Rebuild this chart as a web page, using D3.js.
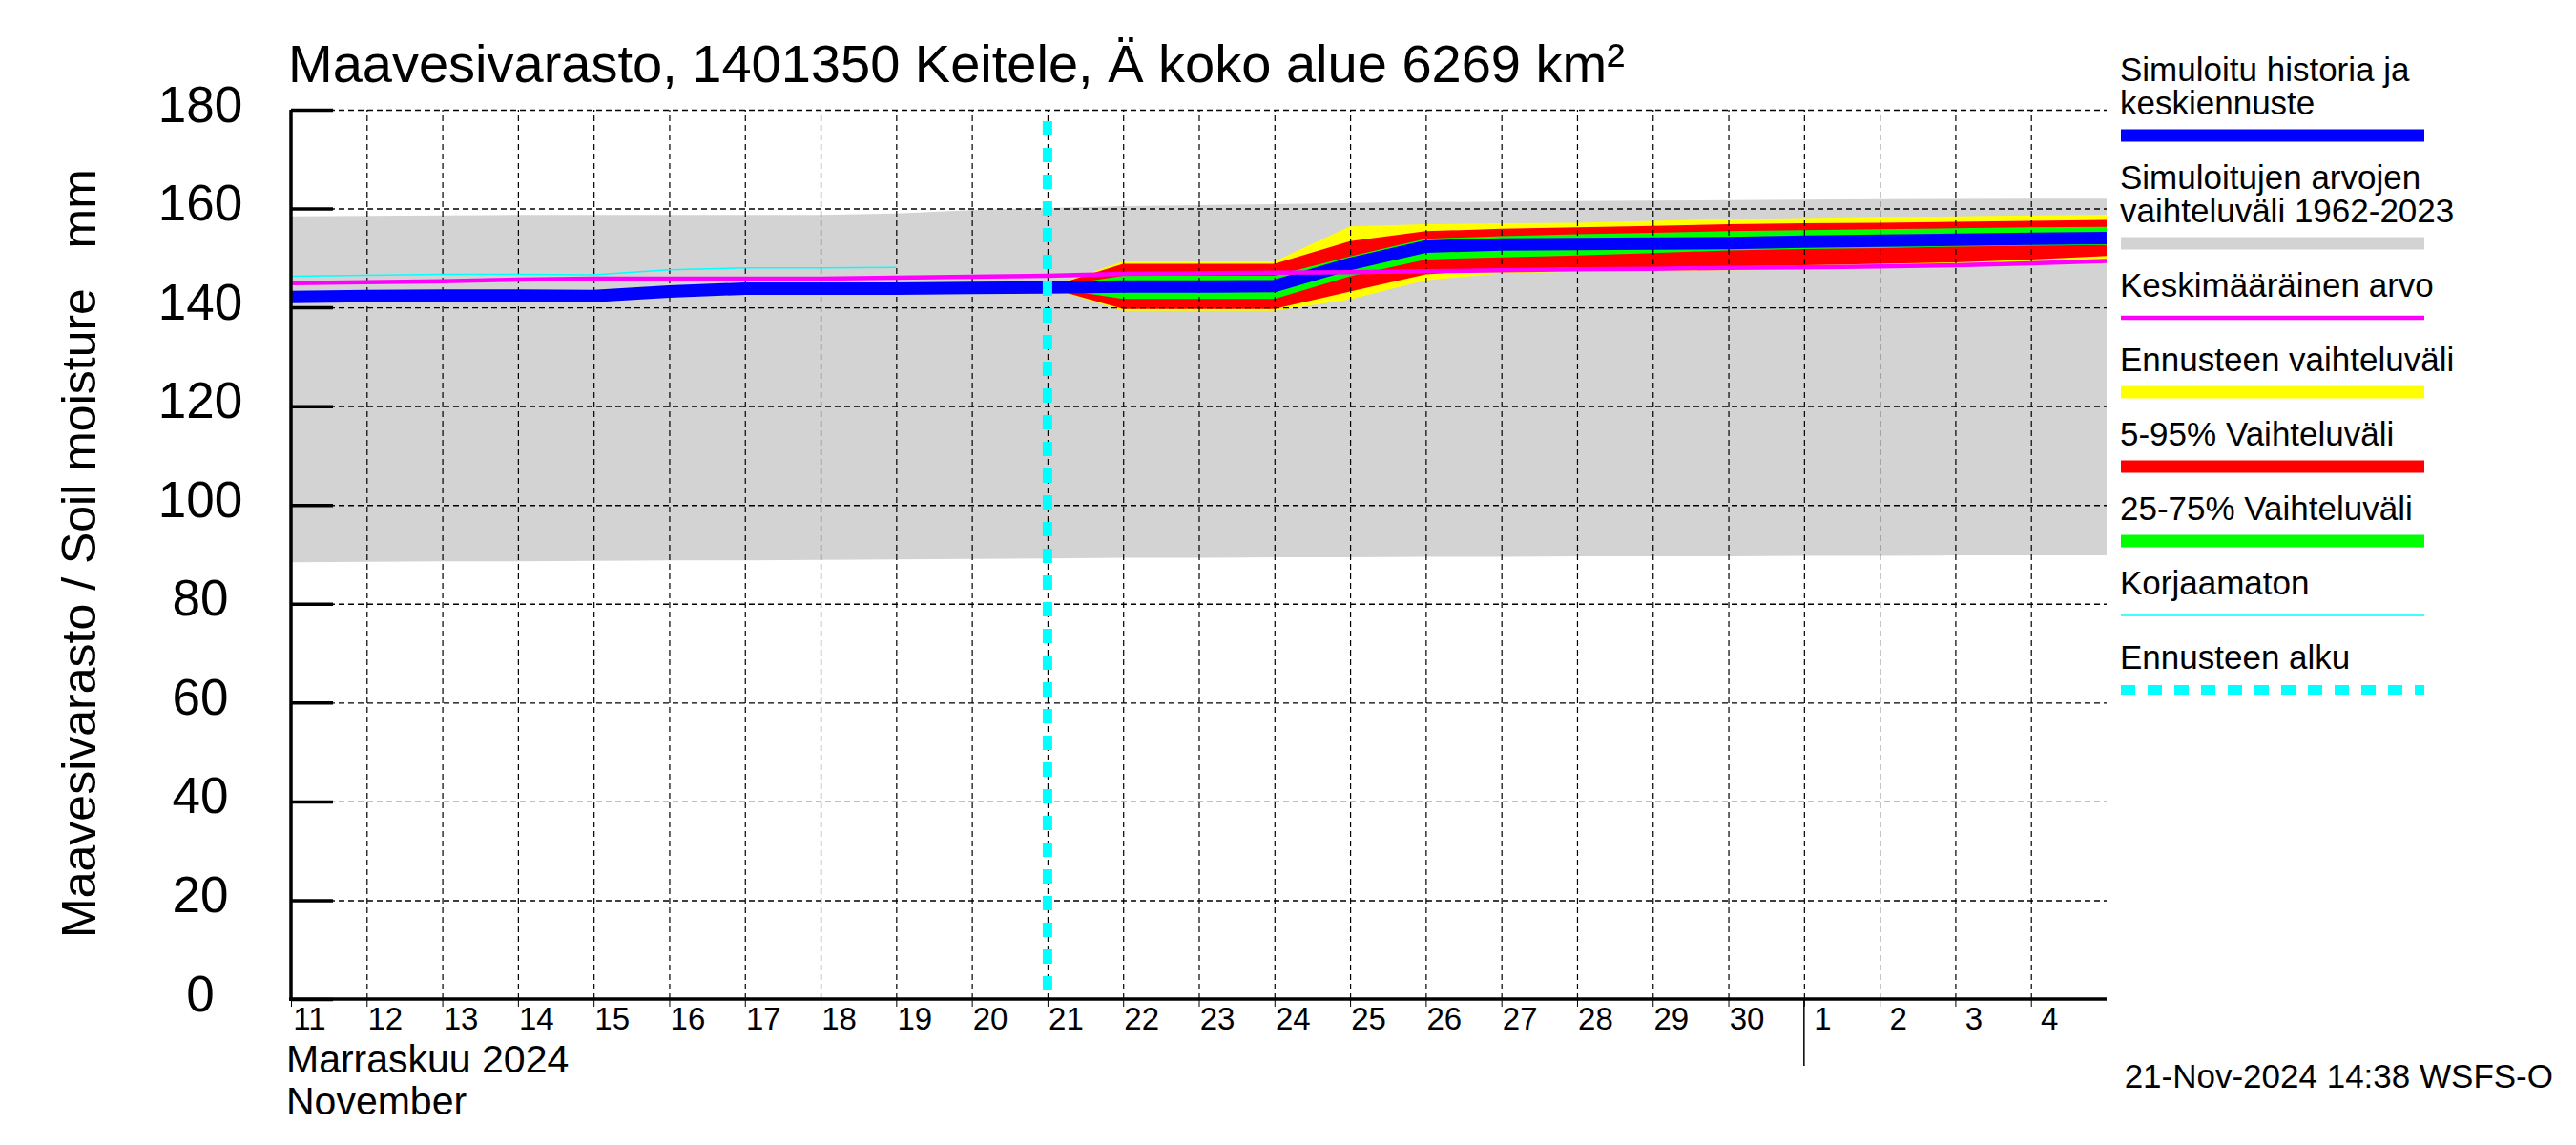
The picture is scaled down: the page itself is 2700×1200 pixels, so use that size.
<!DOCTYPE html>
<html>
<head>
<meta charset="utf-8">
<script src="https://cdn.jsdelivr.net/npm/d3@7"></script>
<style>
  body { margin: 0; background: #fff; }
  text { font-family: "Liberation Sans", Arial, Helvetica, sans-serif; fill: #000; }
</style>
</head>
<body>
<div id="chart"></div>
<script>
// days of the plot, Nov 11 .. Dec 5 (end of axis)
const days = ["2024-11-11","2024-11-12","2024-11-13","2024-11-14","2024-11-15","2024-11-16",
  "2024-11-17","2024-11-18","2024-11-19","2024-11-20","2024-11-21","2024-11-22","2024-11-23",
  "2024-11-24","2024-11-25","2024-11-26","2024-11-27","2024-11-28","2024-11-29","2024-11-30",
  "2024-12-01","2024-12-02","2024-12-03","2024-12-04","2024-12-05"];

// simulated range 1962-2023 (gray)
const grayLo = [88.4,88.5,88.6,88.6,88.7,88.8,88.8,88.9,89.0,89.1,89.2,89.3,89.3,89.4,89.4,
  89.5,89.5,89.6,89.6,89.6,89.7,89.7,89.8,89.8,89.8];
const grayHi = [158.4,158.5,158.6,158.7,158.7,158.7,158.7,158.7,159.0,159.7,160.1,160.5,160.7,
  160.9,161.1,161.3,161.4,161.5,161.6,161.7,161.8,161.9,161.95,162.0,162.0];
// mean value (magenta)
const meanVals = [144.9,145.1,145.3,145.6,145.8,145.8,145.8,145.8,146.0,146.2,146.4,146.8,146.9,
  147.0,147.1,147.3,147.5,147.7,147.8,148.0,148.1,148.3,148.5,148.9,149.4];

// simulated history (blue), Nov 11 .. Nov 21
const histDays = days.slice(0, 11);
const history = [142.1,142.3,142.4,142.4,142.3,143.2,143.8,143.8,143.8,143.95,144.05];

// uncorrected (thin cyan), Nov 11 .. Nov 19
const korjDays = days.slice(0, 9);
const korjaamaton = [146.3,146.5,146.7,146.7,146.6,147.6,148.0,148.0,148.1];

// forecast, Nov 21 .. Dec 5
const fcDays = days.slice(10);
const median   = [144.05,144.2,144.2,144.3,148.8,152.3,152.7,152.8,152.9,153.0,153.3,153.5,153.7,153.9,154.0];
const yellowHi = [144.05,149.3,149.3,149.3,156.4,156.8,157.0,157.1,157.5,157.9,158.1,158.3,158.4,158.6,158.75];
const redHi    = [144.05,148.8,148.8,148.8,153.4,155.4,155.9,156.2,156.5,156.8,157.0,157.1,157.3,157.5,157.7];
const greenHi  = [144.05,146.4,146.4,146.4,150.3,153.9,154.4,154.8,155.1,155.4,155.6,155.8,156.0,156.2,156.3];
const greenLo  = [144.05,141.7,141.7,141.7,146.3,149.7,150.1,150.5,151.0,151.5,151.8,152.0,152.3,152.5,152.6];
const redLo    = [144.05,139.7,139.7,139.7,143.2,146.7,147.7,148.1,148.1,148.3,148.5,148.8,149.1,149.7,150.4];
const yellowLo = [144.05,139.3,139.3,139.3,141.6,145.5,146.9,147.2,147.3,147.5,147.6,148.0,148.5,148.8,148.9];

const yTicks = [0,20,40,60,80,100,120,140,160,180];
const forecastStart = "2024-11-21";
const monthStart = "2024-12-01";

const title = "Maavesivarasto, 1401350 Keitele, Ä koko alue 6269 km²";
const yTitle = "Maavesivarasto / Soil moisture   mm";
const monthLabels = ["Marraskuu 2024", "November"];
const stamp = "21-Nov-2024 14:38 WSFS-O";

const legendItems = [
  {lines: ["Simuloitu historia ja", "keskiennuste"], color: "#0000ff", w: 13},
  {lines: ["Simuloitujen arvojen", "vaihteluväli 1962-2023"], color: "#d3d3d3", w: 13},
  {lines: ["Keskimääräinen arvo"], color: "#ff00ff", w: 4.5},
  {lines: ["Ennusteen vaihteluväli"], color: "#ffff00", w: 13},
  {lines: ["5-95% Vaihteluväli"], color: "#ff0000", w: 13},
  {lines: ["25-75% Vaihteluväli"], color: "#00ff00", w: 13},
  {lines: ["Korjaamaton"], color: "#00ffff", w: 1.5},
  {lines: ["Ennusteen alku"], color: "#00ffff", w: 10, dash: "15,13"}
];

const W = 2700, H = 1200;
const plotL = 305, plotR = 2208, plotT = 115, plotB = 1047;

const parse = d3.utcParse("%Y-%m-%d");
const x = d3.scaleUtc()
  .domain([parse(days[0]), parse(days[days.length - 1])])
  .range([plotL, plotR]);
const y = d3.scaleLinear().domain([0, 180]).range([plotB, plotT]);

const svg = d3.select("#chart").append("svg")
  .attr("width", W).attr("height", H)
  .style("background", "#fff");

// gray range band
const all = days.map((d, i) => ({date: parse(d), lo: grayLo[i], hi: grayHi[i], mean: meanVals[i]}));
svg.append("path")
  .datum(all)
  .attr("fill", "#d3d3d3")
  .attr("d", d3.area().x(d => x(d.date)).y0(d => y(d.lo)).y1(d => y(d.hi)));

// forecast bands
const fc = fcDays.map((d, i) => ({date: parse(d), med: median[i],
  yh: yellowHi[i], yl: yellowLo[i], rh: redHi[i], rl: redLo[i], gh: greenHi[i], gl: greenLo[i]}));
const bands = [["yl","yh","#ffff00"], ["rl","rh","#ff0000"], ["gl","gh","#00ff00"]];
bands.forEach(([lo, hi, col]) => {
  svg.append("path")
    .datum(fc)
    .attr("fill", col)
    .attr("d", d3.area().x(d => x(d.date)).y0(d => y(d[lo])).y1(d => y(d[hi])));
});

// grid
const gridDays = days.slice(1, -1).map(parse);
svg.append("g")
  .attr("transform", `translate(0,${plotB})`)
  .call(d3.axisBottom(x).tickValues(gridDays).tickSize(-(plotB - plotT)).tickFormat(""))
  .call(g => g.select(".domain").remove())
  .selectAll("line")
    .attr("stroke", "#000").attr("stroke-width", 1.2).attr("stroke-dasharray", "6,4");

svg.append("g")
  .attr("transform", `translate(${plotL},0)`)
  .call(d3.axisLeft(y).tickValues(yTicks.slice(1)).tickSize(-(plotR - plotL)).tickFormat(""))
  .call(g => g.select(".domain").remove())
  .selectAll("line")
    .attr("stroke", "#000").attr("stroke-width", 1.4).attr("stroke-dasharray", "6,4");

// history + median line
const line = d3.line().x(d => x(d.date)).y(d => y(d.v));
const blueData = histDays.map((d, i) => ({date: parse(d), v: history[i]}))
  .concat(fc.slice(1).map(d => ({date: d.date, v: d.med})));
svg.append("path")
  .datum(blueData)
  .attr("fill", "none").attr("stroke", "#0000ff").attr("stroke-width", 13)
  .attr("stroke-linejoin", "round")
  .attr("d", line);

// mean line
svg.append("path")
  .datum(all.map(d => ({date: d.date, v: d.mean})))
  .attr("fill", "none").attr("stroke", "#ff00ff").attr("stroke-width", 4.5)
  .attr("d", line);

// uncorrected
svg.append("path")
  .datum(korjDays.map((d, i) => ({date: parse(d), v: korjaamaton[i]})))
  .attr("fill", "none").attr("stroke", "#00ffff").attr("stroke-width", 1.5)
  .attr("d", line);

// forecast start
svg.append("line")
  .attr("x1", x(parse(forecastStart))).attr("x2", x(parse(forecastStart)))
  .attr("y1", y(180)).attr("y2", y(0))
  .attr("stroke", "#00ffff").attr("stroke-width", 10)
  .attr("stroke-dasharray", "15,13").attr("stroke-dashoffset", 16);

// y axis: line, inner ticks, labels
svg.append("g")
  .attr("transform", `translate(${plotL},0)`)
  .call(d3.axisRight(y).tickValues(yTicks).tickSize(44).tickFormat(""))
  .call(g => g.select(".domain").remove())
  .selectAll("line").attr("stroke", "#000").attr("stroke-width", 3.5);

const yLab = svg.append("g")
  .attr("transform", `translate(${plotL},0)`)
  .call(d3.axisLeft(y).tickValues(yTicks).tickSize(0).tickFormat(d3.format("d")));
yLab.select(".domain").remove();
yLab.selectAll("text")
  .attr("x", 210 - plotL).attr("dy", 0).attr("y", 12)
  .attr("text-anchor", "middle")
  .style("font-size", "53px")
  .style("font-family", '"Liberation Sans", Arial, sans-serif');

svg.append("line")
  .attr("x1", plotL).attr("x2", plotL).attr("y1", y(180)).attr("y2", y(0) + 2)
  .attr("stroke", "#000").attr("stroke-width", 3.5);

// x axis
const dayTicks = days.slice(0, -1).map(parse);
const xAx = svg.append("g")
  .attr("transform", `translate(0,${plotB})`)
  .call(d3.axisBottom(x).tickValues(dayTicks).tickSize(8).tickFormat(d3.utcFormat("%-d")));
xAx.select(".domain").remove();
xAx.selectAll("line").attr("stroke", "#000").attr("stroke-width", 1);
xAx.selectAll("text")
  .attr("x", 19).attr("y", 32).attr("dy", 0)
  .attr("text-anchor", "middle")
  .style("font-size", "33px")
  .style("font-family", '"Liberation Sans", Arial, sans-serif');

svg.append("line")
  .attr("x1", plotL - 2).attr("x2", plotR).attr("y1", plotB).attr("y2", plotB)
  .attr("stroke", "#000").attr("stroke-width", 3.5);

svg.append("line")
  .attr("x1", x(parse(monthStart))).attr("x2", x(parse(monthStart)))
  .attr("y1", plotB).attr("y2", plotB + 70)
  .attr("stroke", "#000").attr("stroke-width", 1.5);

// texts
svg.append("text").attr("x", 302).attr("y", 86)
  .style("font-size", "56px").text(title);

svg.append("text")
  .attr("transform", "translate(100,580) rotate(-90)")
  .attr("text-anchor", "middle")
  .style("font-size", "50px")
  .style("white-space", "pre")
  .text(yTitle);

monthLabels.forEach((t, i) => {
  svg.append("text").attr("x", 300).attr("y", 1124 + i * 44)
    .style("font-size", "41px").text(t);
});

svg.append("text").attr("x", 2676).attr("y", 1140)
  .attr("text-anchor", "end")
  .style("font-size", "35px").text(stamp);

// legend
const lg = svg.append("g");
let ly = 84.6;
legendItems.forEach(item => {
  item.lines.forEach((t, j) => {
    lg.append("text").attr("x", 2222).attr("y", ly + j * 35)
      .style("font-size", "35px").text(t);
  });
  const by = ly + (item.lines.length - 1) * 35 + 22.5;
  lg.append("line")
    .attr("x1", 2223).attr("x2", 2541).attr("y1", by).attr("y2", by)
    .attr("stroke", item.color).attr("stroke-width", item.w)
    .attr("stroke-dasharray", item.dash || null);
  ly = by + 55.5;
});
</script>
</body>
</html>
